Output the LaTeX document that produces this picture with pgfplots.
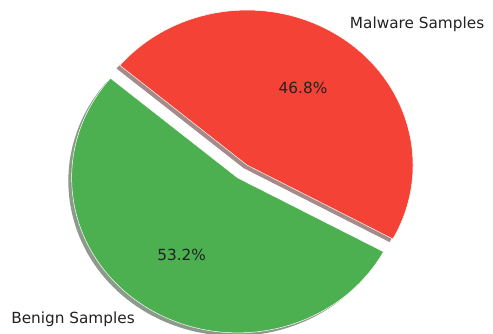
\documentclass[border=0pt]{standalone}
\usepackage{pgfplots}
\pgfplotsset{compat=1.18}
\usepackage{pgfplotstable}
\usepackage{fontspec}
\setmainfont{DejaVu Sans}
\definecolor{mred}{HTML}{F44336}
\definecolor{mgreen}{HTML}{4CAF50}
\definecolor{shred}{rgb}{0.643,0.540,0.532}
\definecolor{shgreen}{rgb}{0.545,0.603,0.547}
\definecolor{txt}{HTML}{222222}
\pgfplotstableread{
label value
Benign 53.2
Malware 46.8
}\piedata
\begin{document}
\begin{tikzpicture}[lbl/.style={font=\fontsize{15.3bp}{18bp}\selectfont,text=txt,inner sep=0pt}]
\pgfplotstablegetelem{0}{value}\of\piedata \let\vb\pgfplotsretval
\pgfplotstablegetelem{1}{value}\of\piedata \let\vm\pgfplotsretval
\pgfmathsetmacro\tot{\vb+\vm}
\pgfmathsetmacro\sa{140}
\pgfmathsetmacro\ea{\sa+360*(\vb/\tot)}
\pgfmathsetmacro\eb{\ea+360*(\vm/\tot)}
\pgfmathsetmacro\mb{(\sa+\ea)/2}
\pgfmathsetmacro\mm{(\ea+\eb)/2}
% exploded centre of the benign wedge
\pgfmathsetmacro\cbx{0.1*cos(\mb)}
\pgfmathsetmacro\cby{0.1*sin(\mb)}
% start points on the rim
\pgfmathsetmacro\gsx{\cbx+cos(\sa)}
\pgfmathsetmacro\gsy{\cby+sin(\sa)}
\pgfmathsetmacro\rsx{cos(\ea)}
\pgfmathsetmacro\rsy{sin(\ea)}
% label positions
\pgfmathsetmacro\lmx{1.1*cos(\mm)}
\pgfmathsetmacro\lmy{1.1*sin(\mm)}
\pgfmathsetmacro\lbx{\cbx+1.1*cos(\mb)}
\pgfmathsetmacro\lby{\cby+1.1*sin(\mb)}
\pgfmathsetmacro\pmx{0.6*cos(\mm)}
\pgfmathsetmacro\pmy{0.6*sin(\mm)}
\pgfmathsetmacro\pbx{\cbx+0.6*cos(\mb)}
\pgfmathsetmacro\pby{\cby+0.6*sin(\mb)}
\pgfmathsetmacro\sh{-0.02}
\begin{axis}[width=493bp,height=334bp,scale only axis,hide axis,
  xmin=-1.488,xmax=1.482,ymin=-1.090,ymax=1.065,clip=false]
% shadows
\fill[shgreen] (axis cs:\cbx+\sh,\cby+\sh) -- (axis cs:\gsx+\sh,\gsy+\sh)
  arc[start angle=\sa,end angle=\ea,x radius=165.99bp,y radius=154.99bp] -- cycle;
\fill[shred] (axis cs:\sh,\sh) -- (axis cs:\rsx+\sh,\rsy+\sh)
  arc[start angle=\ea,end angle=\eb,x radius=165.99bp,y radius=154.99bp] -- cycle;
% wedges
\filldraw[fill=mgreen,draw=white,line width=0.5bp] (axis cs:\cbx,\cby) -- (axis cs:\gsx,\gsy)
  arc[start angle=\sa,end angle=\ea,x radius=165.99bp,y radius=154.99bp] -- cycle;
\filldraw[fill=mred,draw=white,line width=0.5bp] (axis cs:0,0) -- (axis cs:\rsx,\rsy)
  arc[start angle=\ea,end angle=\eb,x radius=165.99bp,y radius=154.99bp] -- cycle;
% labels
\node[lbl,anchor=west] at (axis cs:\lmx,\lmy) {Malware Samples};
\node[lbl,anchor=east] at (axis cs:\lbx,\lby) {Benign Samples};
\node[lbl] at (axis cs:\pmx,\pmy) {46.8\%};
\node[lbl] at (axis cs:\pbx,\pby) {53.2\%};
\end{axis}
\pgfresetboundingbox
\useasboundingbox (current axis.south west) rectangle (current axis.north east);
\end{tikzpicture}
\end{document}
